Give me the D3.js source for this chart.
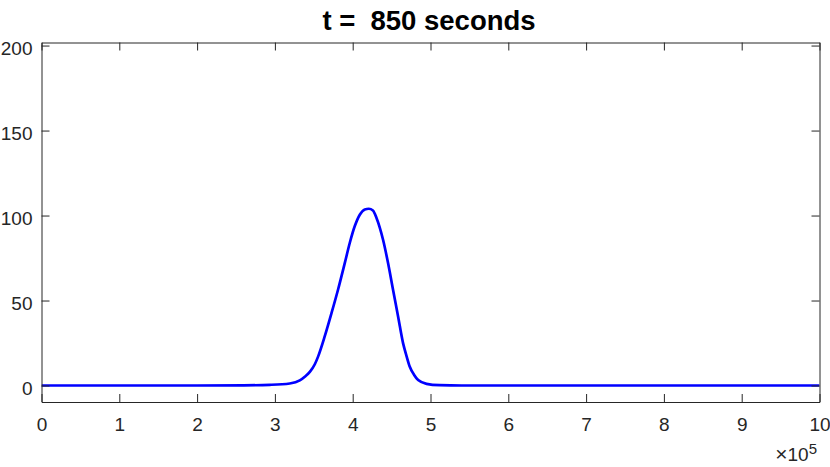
<!DOCTYPE html>
<html>
<head>
<meta charset="utf-8">
<script src="https://cdn.jsdelivr.net/npm/d3@7"></script>
<style>
  html, body { margin: 0; padding: 0; background: #fff; }
  svg { display: block; }
  text { font-family: "Liberation Sans", Arial, Helvetica, sans-serif; }
</style>
</head>
<body>
<svg id="chart" width="830" height="467"></svg>
<script>
// ---- data ----
const titleText = "t =  850 seconds";
const xValues = [0, 100000, 200000, 260000, 293400, 319100, 332000, 338400, 344900, 351300,
  355500, 364100, 372700, 381200, 389800, 396300, 402700, 409100, 415600, 420700,
  426000, 430600, 439100, 445500, 451900, 458400, 464800, 469100, 473400, 479000,
  484100, 494900, 511900, 540000, 600000, 800000, 1000000];
const yValues = [0, 0, 0, 0.1, 0.4, 1.2, 3, 5.2, 8, 12.5,
  17, 29, 42.5, 56.5, 72, 84, 93.8, 100.5, 103.6, 104,
  103, 98.6, 85.6, 71.9, 56.2, 40.5, 24.8, 17.5, 11, 6.2,
  3.2, 1.0, 0.2, 0, 0, 0, 0];
const xTicks = [0, 100000, 200000, 300000, 400000, 500000, 600000, 700000, 800000, 900000, 1000000];
const yTicks = [0, 50, 100, 150, 200];
const xDomain = [0, 1000000];
const yDomain = [-9.7, 201.8];
const exponent = "5";

// ---- layout ----
const mLeft = 41.5, mRight = 819.5, mTop = 42.5, mBottom = 402;
const axisColor = "#262626";

const svg = d3.select("#chart");
const x = d3.scaleLinear().domain(xDomain).range([mLeft, mRight]);
const y = d3.scaleLinear().domain(yDomain).range([mBottom, mTop]);

const pts = xValues.map((v, i) => [v, yValues[i]]);

// line
const line = d3.line().x(d => x(d[0])).y(d => y(d[1])).curve(d3.curveMonotoneX);
svg.append("defs").append("clipPath").attr("id", "clip")
  .append("rect").attr("x", mLeft).attr("y", mTop).attr("width", mRight - mLeft).attr("height", mBottom - mTop);
svg.append("path").datum(pts)
  .attr("clip-path", "url(#clip)")
  .attr("d", line)
  .attr("fill", "none")
  .attr("stroke", "#0000ff")
  .attr("stroke-width", 2.7)
  .attr("stroke-linejoin", "round");

// axes
function styleAxis(g) {
  g.selectAll("path.domain").attr("stroke", axisColor).attr("stroke-width", 1);
  g.selectAll(".tick line").attr("stroke", axisColor).attr("stroke-width", 1);
  g.selectAll("text").attr("fill", axisColor).style("font-size", "19px")
    .style("font-family", '"Liberation Sans", Arial, Helvetica, sans-serif');
}

const gx = svg.append("g").attr("transform", `translate(0,${mBottom})`)
  .call(d3.axisBottom(x).tickValues(xTicks).tickSizeInner(-8).tickSizeOuter(0).tickPadding(16)
    .tickFormat(d => d3.format("d")(d / 1e5)));
styleAxis(gx);
gx.selectAll("text").attr("dy", "0.71em");

const gxt = svg.append("g").attr("transform", `translate(0,${mTop})`)
  .call(d3.axisTop(x).tickValues(xTicks).tickSizeInner(-8).tickSizeOuter(0).tickFormat(""));
styleAxis(gxt);

const gy = svg.append("g").attr("transform", `translate(${mLeft},0)`)
  .call(d3.axisLeft(y).tickValues(yTicks).tickSizeInner(-8).tickSizeOuter(0).tickPadding(9));
styleAxis(gy);
gy.selectAll("text").attr("dy", "0.46em");

const gyr = svg.append("g").attr("transform", `translate(${mRight},0)`)
  .call(d3.axisRight(y).tickValues(yTicks).tickSizeInner(-8).tickSizeOuter(0).tickFormat(""));
styleAxis(gyr);

// exponent label
const ex = svg.append("text").attr("x", 817).attr("y", 461)
  .attr("text-anchor", "end").attr("fill", axisColor).style("font-size", "19px");
ex.append("tspan").style("font-size", "21px").text("\u00d7");
ex.append("tspan").text("10");
ex.append("tspan").attr("dy", -7).style("font-size", "15px").text(exponent);

// title
svg.append("text").attr("x", 429).attr("y", 30)
  .attr("text-anchor", "middle").attr("fill", "#000")
  .style("font-size", "27.5px").style("font-weight", "bold")
  .style("white-space", "pre").attr("xml:space", "preserve")
  .text(titleText);
</script>
</body>
</html>
